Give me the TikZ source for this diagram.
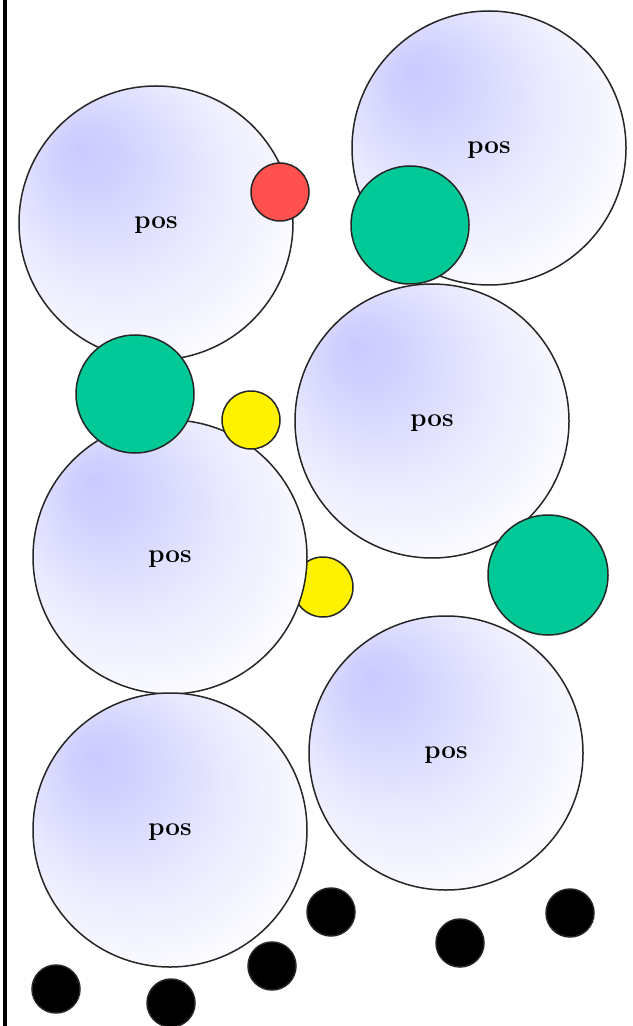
\documentclass[tikz,border=0pt]{standalone}
\usepackage{tikz}
\definecolor{gnx}{RGB}{0,200,150}
\definecolor{rdx}{RGB}{255,80,80}
\colorlet{olx}{black!85}
\pgfdeclareradialshading{posshade}{\pgfpoint{-14bp}{14bp}}{color(0bp)=(blue!21); color(6bp)=(blue!18); color(20bp)=(blue!8); color(34bp)=(white); color(50bp)=(white)}
\tikzset{
    posball/.style={circle,draw=olx,line width=0.75pt,shading=posshade,inner sep=0pt,outer sep=0pt,minimum size=137pt,text depth=0pt,font=\fontsize{13}{15}\selectfont\bfseries},
    dotball/.style={circle,draw=olx,line width=0.75pt,inner sep=0pt,outer sep=0pt,minimum size=#1}
}

\begin{document}
\begin{tikzpicture}[x=0.5pt,y=-0.5pt]
            \useasboundingbox (0,0) rectangle (632,1026);
            \fill[white] (0,0) rectangle (632,1026);
            \draw[black,line width=2pt] (5,0) -- (5,1026);
            \node [dotball=30pt,fill=yellow] (yel2) at (323,587) {};
            \node [posball] (posA) at (156,223) {pos};
            \node [posball] (posB) at (489,148) {pos};
            \node [posball] (posC) at (432,421) {pos};
            \node [posball] (posD) at (170,557) {pos};
            \node [posball] (posE) at (446,753) {pos};
            \node [posball] (posF) at (170,830) {pos};
            \node [dotball=29pt,fill=rdx] (red1) at (280,192) {};
            \node [dotball=59pt,fill=gnx] (grn1) at (410,225) {};
            \node [dotball=59pt,fill=gnx] (grn2) at (135,394) {};
            \node [dotball=60pt,fill=gnx] (grn3) at (548,575) {};
            \node [dotball=29pt,fill=yellow] (yel1) at (251,420) {};
            \foreach \x/\y [count=\i] in {56/989,171/1003,272/966,331/912,460/943,570/913} {
                \node [dotball=24pt,fill=black] (dot\i) at (\x,\y) {};
            }
        \end{tikzpicture}
\end{document}
